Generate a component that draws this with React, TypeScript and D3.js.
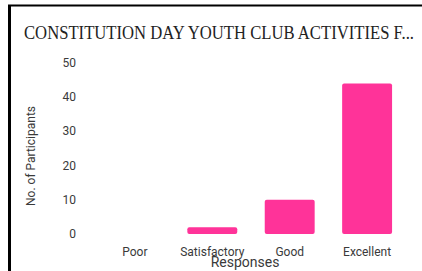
import React from 'react';
import * as d3 from 'd3';

const title = 'CONSTITUTION DAY YOUTH CLUB ACTIVITIES F...';
const categories = ['Poor', 'Satisfactory', 'Good', 'Excellent'];
const participants = [0, 2, 10, 44];
const yTicks = [0, 10, 20, 30, 40, 50];

const width = 422;
const height = 271;

const App: React.FC = () => {
    const x = d3.scaleBand<string>()
        .domain(categories)
        .range([96, 406])
        .paddingInner(0.355)
        .paddingOuter(0.18);

    const y = d3.scaleLinear()
        .domain([0, 50])
        .range([234, 63]);

    const font = 'Roboto, sans-serif';

    return (
        <svg width={width} height={height} style={{ position: 'absolute', left: 0, top: 0 }}>
            <rect width={width} height={height} fill="#fff" />
            {/* card border */}
            <line x1={8} y1={5.5} x2={width} y2={5.5} stroke="#000" strokeWidth={2} />
            <line x1={9.5} y1={5} x2={9.5} y2={height} stroke="#000" strokeWidth={3} />

            <text x={24} y={39} fontFamily="'Liberation Serif', serif" fontSize={18} fill="#222"
                textLength={390} lengthAdjust="spacingAndGlyphs">{title}</text>

            {yTicks.map(t => (
                <text key={t} x={76} y={y(t)} textAnchor="end" dominantBaseline="central"
                    fontFamily={font} fontSize={12} fill="#3a3a3a">{t}</text>
            ))}

            <text transform={`translate(31,156) rotate(-90)`} textAnchor="middle" dominantBaseline="central"
                fontFamily={font} fontSize={12} fill="#3a3a3a">No. of Participants</text>

            {categories.map((c, i) => (
                participants[i] > 0 ? (
                    <rect key={c} x={x(c)} y={y(participants[i])} width={x.bandwidth()}
                        height={y(0) - y(participants[i])} rx={2} fill="#ff3399" />
                ) : null
            ))}

            {categories.map(c => (
                <text key={c} x={(x(c) ?? 0) + x.bandwidth() / 2} y={252} textAnchor="middle" dominantBaseline="central"
                    fontFamily={font} fontSize={12} fill="#3a3a3a">{c}</text>
            ))}

            <text x={245} y={262} textAnchor="middle" dominantBaseline="central"
                fontFamily={font} fontSize={14} fill="#3a3a3a">Responses</text>
        </svg>
    );
};

export default App;
